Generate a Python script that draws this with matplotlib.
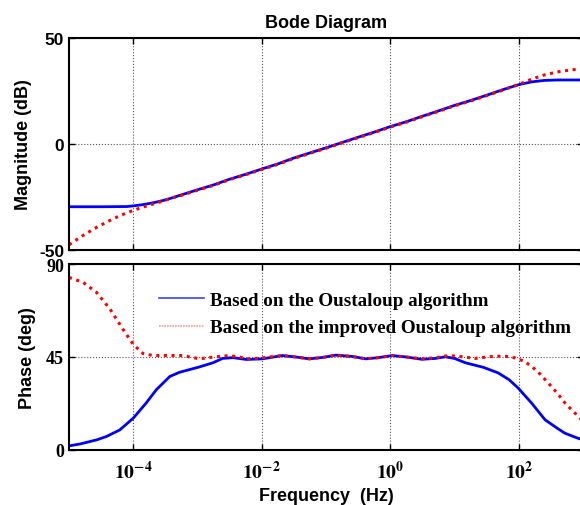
import matplotlib
matplotlib.use("Agg")
import matplotlib.pyplot as plt
from matplotlib.lines import Line2D
import numpy as np

plt.rcParams["mathtext.fontset"] = "stix"

# frequency exponents (log10 Hz) and values
mag_exp_blue = [-5, -4.5, -4.1, -4.0, -3.85, -3.7, -3.5, -3.25, -3.0, -2.75, -2.5, -2.25,
                -2.0, -1.75, -1.5, -1.25, -1.0, -0.75, -0.5, -0.25, 0.0, 0.25, 0.5, 0.75,
                1.0, 1.25, 1.5, 1.75, 2.0, 2.2, 2.4, 2.6, 3.0]
mag_blue = [-29.6, -29.6, -29.5, -29.2, -28.6, -27.8, -26.4, -24.0, -21.6, -19.3, -16.6, -14.3,
            -11.8, -9.4, -6.6, -4.2, -1.8, 0.7, 3.2, 5.6, 8.2, 10.5, 13.1, 15.6,
            18.2, 20.5, 23.0, 25.6, 28.0, 29.3, 30.0, 30.2, 30.2]

mag_exp_red = [-5, -4.8, -4.6, -4.4, -4.2, -4.0, -3.8, -3.6, -3.4, -3.25, -3.0, -2.75, -2.5,
               -2.25, -2.0, -1.75, -1.5, -1.25, -1.0, -0.75, -0.5, -0.25, 0.0, 0.25, 0.5,
               0.75, 1.0, 1.25, 1.5, 1.75, 2.0, 2.2, 2.4, 2.6, 2.8, 3.0]
mag_red = [-47.5, -43.5, -39.8, -36.6, -33.7, -31.3, -29.3, -27.5, -25.5, -24.2, -21.8, -19.5,
           -16.8, -14.5, -12.0, -9.6, -6.8, -4.4, -2.0, 0.5, 3.0, 5.4, 8.0, 10.3, 12.9,
           15.4, 18.0, 20.3, 22.8, 25.4, 28.1, 30.6, 32.6, 34.0, 34.9, 35.5]

ph_exp_blue = [-5, -4.83, -4.57, -4.42, -4.21, -4.0, -3.8, -3.64, -3.43, -3.28, -2.97, -2.76,
               -2.61, -2.45, -2.24, -1.99, -1.68, -1.47, -1.26, -1.05, -0.85, -0.6, -0.38,
               -0.18, 0.03, 0.25, 0.49, 0.7, 0.86, 1.0, 1.17, 1.45, 1.68, 1.85, 1.99, 2.2,
               2.41, 2.6, 2.72, 2.92, 3.0]
ph_blue = [2.0, 2.9, 4.9, 6.5, 9.7, 15.4, 22.7, 29.2, 35.6, 37.6, 40.2, 42.2,
           44.3, 44.7, 43.8, 44.1, 45.7, 45.0, 44.1, 44.8, 45.9, 45.3, 44.1,
           44.7, 45.7, 45.0, 43.9, 44.3, 45.1, 44.3, 42.2, 40.0, 37.3, 34.0, 30.0, 22.7,
           14.6, 10.5, 8.1, 5.7, 5.0]

ph_exp_red = [-5, -4.78, -4.57, -4.36, -4.16, -4.0, -3.85, -3.69, -3.23, -2.97, -2.75,
              -2.5, -2.19, -1.99, -1.68, -1.47, -1.26, -1.05, -0.85, -0.6, -0.38, -0.18,
              0.03, 0.25, 0.49, 0.7, 0.91, 1.1, 1.32, 1.48, 1.63, 1.8, 1.94, 2.08, 2.2,
              2.33, 2.46, 2.6, 2.72, 2.85, 3.0]
ph_red = [83.5, 81.1, 76.2, 68.1, 58.4, 51.1, 46.7, 45.7, 45.7, 44.1, 45.0,
          45.7, 44.1, 44.6, 45.7, 45.0, 44.1, 44.8, 45.9, 45.3, 44.1, 44.7,
          45.7, 45.0, 44.1, 44.6, 45.7, 45.2, 44.3, 44.9, 45.4, 45.3, 44.6, 43.0, 40.5,
          36.8, 32.4, 27.5, 22.7, 18.6, 14.0]

legend_labels = ["Based on the Oustaloup algorithm",
                 "Based on the improved Oustaloup algorithm"]

W, H = 580, 506
fig = plt.figure(figsize=(W / 100, H / 100), dpi=100)

left = 69 / W
width = (583 - 69) / W
ax1 = fig.add_axes([left, (H - 251) / H, width, 212 / H])
ax2 = fig.add_axes([left, (H - 451) / H, width, 186 / H])

f = lambda e: 10.0 ** np.asarray(e)

ax1.plot(f(mag_exp_blue), mag_blue, color="#0000ff", lw=2.0)
ax1.plot(f(mag_exp_red), mag_red, color="#ff0000", lw=2.2, ls=(0, (1, 1.5)))
ax2.plot(f(ph_exp_blue), ph_blue, color="#0000ff", lw=2.0)
ax2.plot(f(ph_exp_red), ph_red, color="#ff0000", lw=2.2, ls=(0, (1, 1.5)))

for ax in (ax1, ax2):
    ax.set_xscale("log")
    ax.set_xlim(1e-5, 1e3)
    ax.set_xticks([1e-4, 1e-2, 1e0, 1e2])
    ax.minorticks_off()
    ax.grid(True, color="#555555", ls=":", lw=0.8)
    ax.tick_params(direction="in", top=True, right=True, length=4, width=1)
    for s in ax.spines.values():
        s.set_linewidth(1.5)

sans = {"family": "Liberation Sans", "weight": "bold"}

ax1.set_ylim(-50, 50)
ax1.set_yticks([-50, 0, 50])
ax1.set_xticklabels([])
ax1.set_yticklabels(["-50", "0", "50"], fontsize=12.5, **sans)
ax1.set_ylabel("Magnitude (dB)", fontsize=13, labelpad=5, **sans)
ax1.set_title("Bode Diagram", fontsize=13, pad=8, **sans)

ax2.set_ylim(0, 90)
ax2.set_yticks([0, 45, 90])
ax2.set_yticklabels(["0", "45", "90"], fontsize=13, family="Liberation Serif",
                    fontweight="bold")
ax2.set_xticklabels([r"$\mathbf{10^{-4}}$", r"$\mathbf{10^{-2}}$",
                     r"$\mathbf{10^{0}}$", r"$\mathbf{10^{2}}$"], fontsize=14)
ax2.tick_params(axis="x", pad=7)
ax2.set_ylabel("Phase (deg)", fontsize=13, labelpad=7, **sans)
ax2.set_xlabel("Frequency  (Hz)", fontsize=13, labelpad=4, **sans)

handles = [Line2D([], [], color="#4040ff", lw=1.2),
           Line2D([], [], color="#ff9999", lw=1.2, ls=(0, (1, 0.6)))]
ax2.legend(handles, legend_labels, loc="upper left", bbox_to_anchor=(0.145, 0.935),
           frameon=False, handlelength=2.4, handletextpad=0.3, labelspacing=0.55,
           borderpad=0.3,
           prop={"family": "Liberation Serif", "weight": "bold", "size": 13.7})

fig.savefig("out.png", dpi=100)
